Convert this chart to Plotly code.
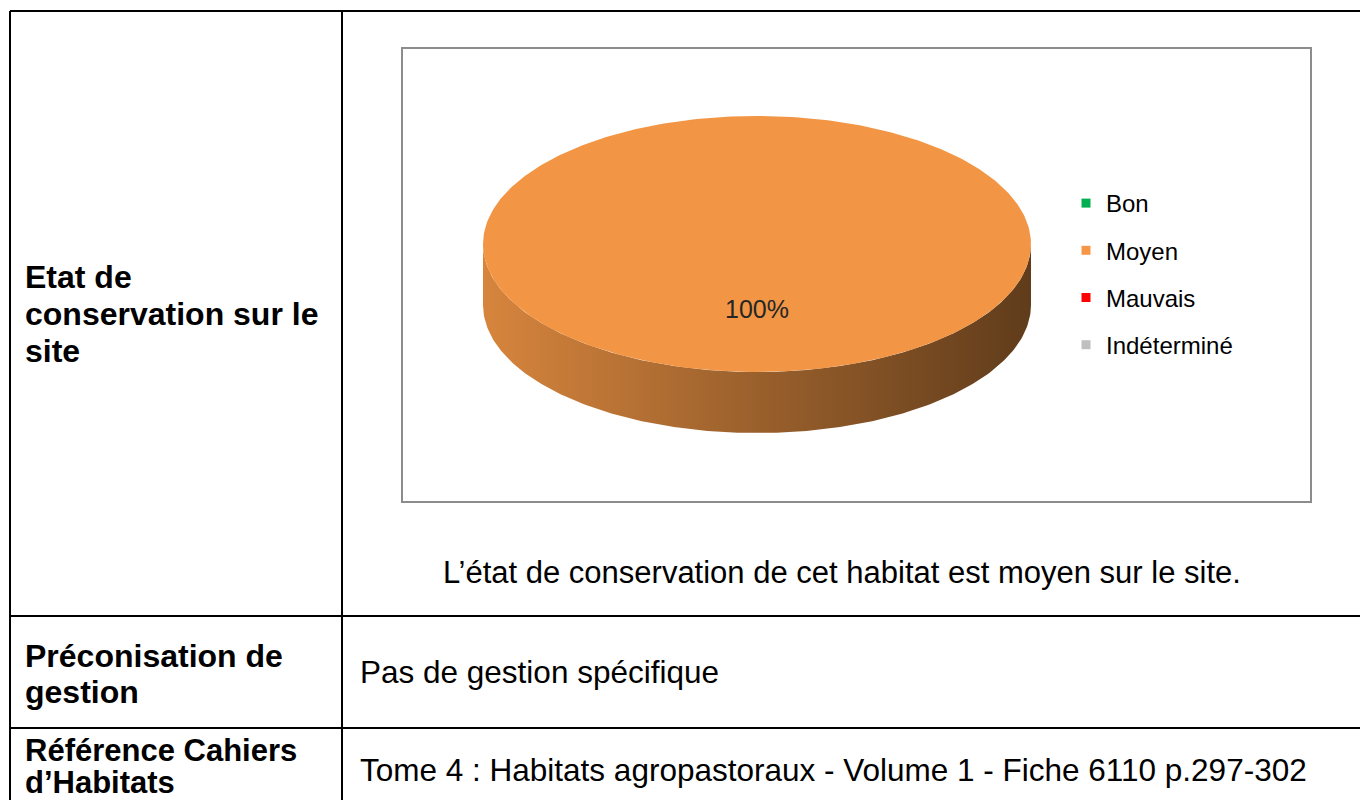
import numpy as np
import plotly.graph_objects as go

# ---------------- data ----------------
categories = ["Bon", "Moyen", "Mauvais", "Indéterminé"]
values = [0, 100, 0, 0]
colors = ["#00B050", "#F29645", "#FF0000", "#BFBFBF"]
legend_colors = ["#00B050", "#F79646", "#FF0000", "#BFBFBF"]

row_labels = [
    ["Etat de", "conservation sur le", "site"],
    ["Préconisation de", "gestion"],
    ["Référence Cahiers", "d’Habitats"],
]
row_texts = [
    "L’état de conservation de cet habitat est moyen sur le site.",
    "Pas de gestion spécifique",
    "Tome 4 : Habitats agropastoraux - Volume 1 - Fiche 6110 p.297-302",
]

# ---------------- layout constants ----------------
W, H = 1360, 800
FONT = "Arial, Liberation Sans, sans-serif"
CX, CY, RX, RY, DEPTH = 757, 244, 274, 128, 61
LABEL_FRAC = 0.53


def shade(hexcol, f):
    hexcol = hexcol.lstrip("#")
    r, g, b = (int(hexcol[i:i + 2], 16) for i in (0, 2, 4))
    return "#%02X%02X%02X" % (int(r * f), int(g * f), int(b * f))


def pt(phi, dy=0.0):
    # phi: degrees clockwise from 12 o'clock
    t = np.radians(phi)
    return CX + RX * np.sin(t), CY - RY * np.cos(t) + dy


fig = go.Figure()

total = float(sum(values))
cum = np.concatenate([[0.0], np.cumsum(values)]) / total * 360.0

# side (front) pieces first
for i, cat in enumerate(categories):
    a, b = cum[i], cum[i + 1]
    if b - a <= 0:
        continue
    s, e = max(a, 90.0), min(b, 270.0)
    if e <= s:
        continue
    ph = np.linspace(s, e, 200)
    xt, yt = pt(ph)
    xb, yb = pt(ph[::-1], DEPTH)
    xs = np.concatenate([xt, xb, xt[:1]])
    ys = np.concatenate([yt, yb, yt[:1]])
    base = colors[i]
    fig.add_trace(go.Scatter(
        x=xs, y=ys, mode="lines", fill="toself",
        line=dict(width=0), hoverinfo="skip", showlegend=False,
        legendgroup=cat,
        fillgradient=dict(type="horizontal", colorscale=[
            [0.0, shade(base, 0.89)],
            [0.5, shade(base, 0.64)],
            [1.0, shade(base, 0.40)],
        ]),
    ))

# top faces
for i, cat in enumerate(categories):
    a, b = cum[i], cum[i + 1]
    if b - a <= 0:
        continue
    ph = np.linspace(a, b, 400)
    xa, ya = pt(ph)
    xs = np.concatenate([[CX], xa, [CX]])
    ys = np.concatenate([[CY], ya, [CY]])
    fig.add_trace(go.Scatter(
        x=xs, y=ys, mode="lines", fill="toself", fillcolor=colors[i],
        line=dict(width=0), hoverinfo="skip", showlegend=False,
        legendgroup=cat,
    ))
    mid = (a + b) / 2.0
    t = np.radians(mid)
    lx = CX + LABEL_FRAC * RX * np.sin(t)
    ly = CY - LABEL_FRAC * RY * np.cos(t)
    fig.add_trace(go.Scatter(
        x=[lx], y=[ly], mode="text",
        text=["%d%%" % round(values[i] / total * 100)],
        textfont=dict(family=FONT, size=25, color="#262626"),
        hoverinfo="skip", showlegend=False, legendgroup=cat,
    ))

# legend entries
for i, cat in enumerate(categories):
    fig.add_trace(go.Scatter(
        x=[None], y=[None], mode="markers", name=cat, legendgroup=cat,
        marker=dict(symbol="square", size=9, color=legend_colors[i]),
    ))

# ---------------- table frame ----------------
shapes = []
line_k = dict(color="#000000", width=2)
shapes.append(dict(type="line", x0=10, x1=W + 5, y0=11, y1=11, line=line_k))
shapes.append(dict(type="line", x0=10, x1=10, y0=11, y1=H + 5, line=line_k))
shapes.append(dict(type="line", x0=342, x1=342, y0=11, y1=H + 5, line=line_k))
shapes.append(dict(type="line", x0=10, x1=W + 5, y0=616, y1=616, line=line_k))
shapes.append(dict(type="line", x0=10, x1=W + 5, y0=728, y1=728, line=line_k))
# chart frame
shapes.append(dict(type="rect", x0=402, x1=1311, y0=48, y1=502,
                   line=dict(color="#8C8C8C", width=2), layer="below"))

annotations = []
label_y = [[277, 314, 351], [656, 692], [750, 782]]
label_size = [32, 32, 31]
for lines, ys, fs in zip(row_labels, label_y, label_size):
    for txt, yy in zip(lines, ys):
        annotations.append(dict(
            x=23, y=yy, xref="x", yref="y", text="<b>%s</b>" % txt,
            showarrow=False, xanchor="left", yanchor="middle",
            font=dict(family=FONT, size=fs, color="#000000"),
        ))
annotations.append(dict(
    x=842, y=572, xref="x", yref="y", text=row_texts[0], showarrow=False,
    xanchor="center", yanchor="middle",
    font=dict(family=FONT, size=31, color="#000000"),
))
annotations.append(dict(
    x=358, y=672, xref="x", yref="y", text=row_texts[1], showarrow=False,
    xanchor="left", yanchor="middle",
    font=dict(family=FONT, size=31.5, color="#000000"),
))
annotations.append(dict(
    x=358, y=770, xref="x", yref="y", text=row_texts[2], showarrow=False,
    xanchor="left", yanchor="middle",
    font=dict(family=FONT, size=31.5, color="#000000"),
))

fig.update_layout(
    width=W, height=H,
    margin=dict(l=0, r=0, t=0, b=0),
    paper_bgcolor="#FFFFFF", plot_bgcolor="#FFFFFF",
    xaxis=dict(range=[0, W], visible=False, fixedrange=True),
    yaxis=dict(range=[H, 0], visible=False, fixedrange=True),
    shapes=shapes,
    annotations=annotations,
    showlegend=True,
    legend=dict(
        x=1066 / W, y=1 - 181 / H, xanchor="left", yanchor="top",
        font=dict(family=FONT, size=24, color="#000000"),
        tracegroupgap=13, bgcolor="rgba(0,0,0,0)", traceorder="grouped",
        itemclick=False, itemdoubleclick=False,
    ),
)

fig.write_html(
    "out.html",
    config={"displayModeBar": False},
    post_script="document.body.style.margin='0px';document.body.style.overflow='hidden';",
)
